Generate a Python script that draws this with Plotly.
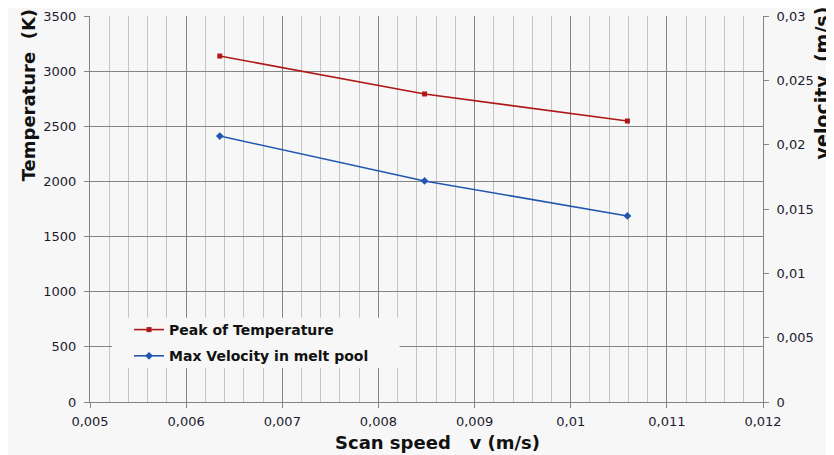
import plotly.graph_objects as go

scan_speed = [0.00635, 0.00848, 0.01059]
peak_temperature = [3137, 2793, 2548]
max_velocity = [0.02067, 0.01718, 0.01446]

temp_name = "Peak of Temperature"
vel_name = "Max Velocity in melt pool"

FONT = "DejaVu Sans"
TICK_COLOR = "#1c1c30"
BG = "#f7f7f7"
NB = "\u00a0"

fig = go.Figure()
fig.add_trace(go.Scatter(
    x=scan_speed, y=peak_temperature, name=temp_name, mode="lines+markers",
    legendgroup="a",
    line=dict(color="#b01818", width=1.6),
    marker=dict(symbol="square", size=5, color="#b01818"),
    yaxis="y"))
fig.add_trace(go.Scatter(
    x=scan_speed, y=max_velocity, name=vel_name, mode="lines+markers",
    legendgroup="b",
    line=dict(color="#2058b0", width=1.6),
    marker=dict(symbol="diamond", size=6, color="#2058b0"),
    yaxis="y2"))

fig.update_layout(
    width=826, height=447,
    margin=dict(l=82, r=71, t=8, b=53, autoexpand=False),
    paper_bgcolor=BG, plot_bgcolor=BG,
    separators=",.",
    font=dict(family=FONT, size=13, color=TICK_COLOR),
    showlegend=True,
    legend=dict(
        x=0.058, y=0.228, xanchor="left", yanchor="top",
        bgcolor="rgba(0,0,0,0)", borderwidth=0,
        font=dict(family=FONT, size=14, color="#111111", weight="bold"),
        tracegroupgap=5, itemwidth=30,
    ),
    xaxis=dict(
        range=[0.005, 0.012], dtick=0.001, tick0=0.005,
        showgrid=True, gridcolor="#858585", gridwidth=1,
        minor=dict(dtick=0.0002, tick0=0.005, showgrid=True, gridcolor="#c4c4c4", gridwidth=1),
        showline=True, linecolor="#858585", linewidth=1,
        ticks="outside", ticklen=5, tickcolor="#858585",
        zeroline=False, automargin=False, ticklabelstandoff=2,
        tickfont=dict(family=FONT, size=13, color=TICK_COLOR),
    ),
    yaxis=dict(
        range=[0, 3500], dtick=500,
        showgrid=True, gridcolor="#858585", gridwidth=1,
        showline=True, linecolor="#858585", linewidth=1,
        ticks="outside", ticklen=5, tickcolor="#858585",
        zeroline=False, automargin=False, ticklabelstandoff=5,
        tickfont=dict(family=FONT, size=13, color=TICK_COLOR),
    ),
    yaxis2=dict(
        range=[0, 0.03], dtick=0.005, overlaying="y", side="right",
        showgrid=False, showline=True, linecolor="#858585", linewidth=1,
        ticks="outside", ticklen=5, tickcolor="#858585",
        zeroline=False, automargin=False, ticklabelstandoff=5,
        tickfont=dict(family=FONT, size=13, color=TICK_COLOR),
    ),
    shapes=[dict(
        type="rect", xref="paper", yref="paper", layer="above",
        x0=0.033, x1=0.46, y0=0.088, y1=0.218,
        fillcolor=BG, line=dict(width=0),
    )],
    annotations=[
        dict(text="<b>Temperature" + NB + NB + "(K)</b>", xref="paper", yref="paper",
             x=-0.0918, y=0.795, textangle=-90, showarrow=False,
             xanchor="center", yanchor="middle",
             font=dict(family=FONT, size=18, color="#111111")),
        dict(text="<b>velocity" + NB + NB + "(m/s)</b>", xref="paper", yref="paper",
             x=1.088, y=0.826, textangle=-90, showarrow=False,
             xanchor="center", yanchor="middle",
             font=dict(family=FONT, size=19, color="#111111")),
        dict(text="<b>Scan speed" + NB * 3 + "v (m/s)</b>", xref="paper", yref="paper",
             x=0.517, y=-0.104, showarrow=False,
             xanchor="center", yanchor="middle",
             font=dict(family=FONT, size=18, color="#111111")),
    ],
)

fig.write_html("out.html")
